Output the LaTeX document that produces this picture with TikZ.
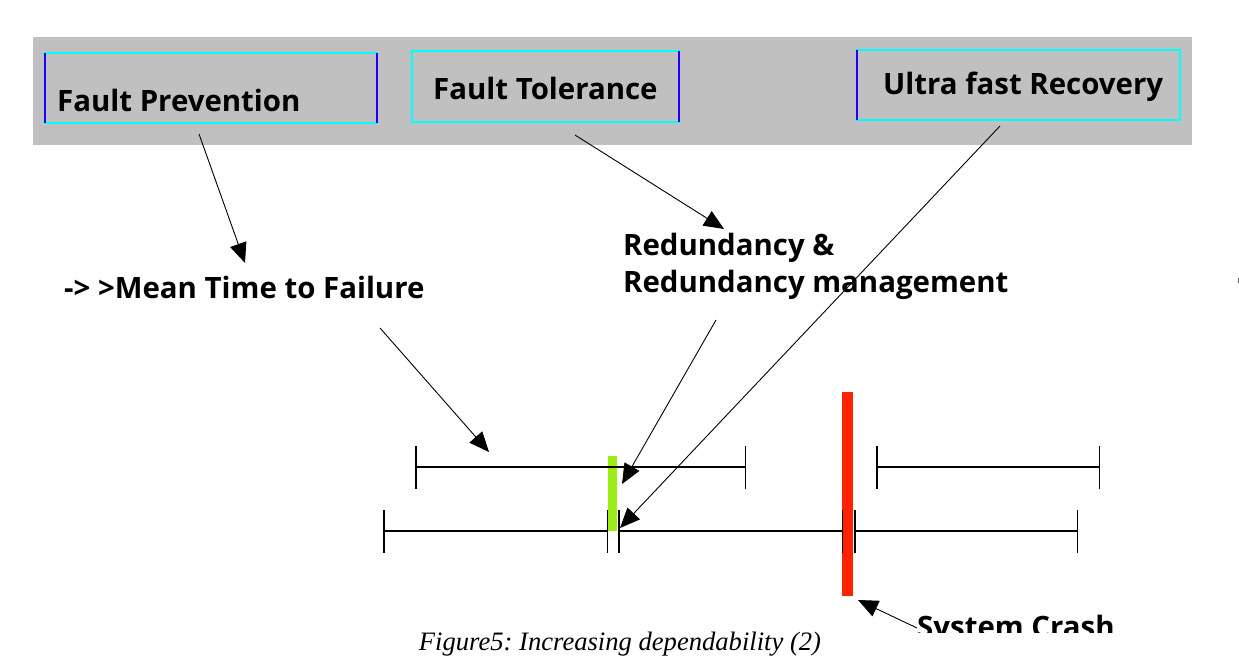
\documentclass[tikz,border=0pt]{standalone}
\usepackage{fontspec}
\setmainfont{Open Sans}
\newfontfamily\capfont{Liberation Serif}
\usetikzlibrary{arrows.meta}
\frenchspacing
\definecolor{bandgray}{RGB}{192,192,192}
\definecolor{boxcyan}{RGB}{0,255,255}
\definecolor{boxblue}{RGB}{30,0,255}
\definecolor{okgreen}{RGB}{154,238,22}
\definecolor{crashred}{RGB}{255,34,0}
\tikzset{
  label/.style={anchor=base west, inner sep=0pt, font=\fontsize{29.4}{37}\selectfont\bfseries},
  caption/.style={anchor=base, inner sep=0pt, font=\capfont\itshape\fontsize{26.6}{30}\selectfont},
  frame/.style={draw=boxcyan, line width=2pt},
  edge/.style={draw=boxblue, line width=2pt},
  pointer/.style={draw=black, line width=0.9pt, -{Triangle[length=20pt,width=17pt]}},
  upperspan/.style={draw=black, line width=1.5pt, {Bar[width=43pt]}-{Bar[width=43pt]}},
  lowerspan/.style={draw=black, line width=1.5pt, {Bar[width=43pt]}-{Bar[width=43pt]}}
}
\begin{document}
\begin{tikzpicture}[x=1pt, y=-1pt]
  \useasboundingbox[fill=white] (0,0) rectangle (1239,666);

  % grey header band with the three boxes
  \fill[bandgray] (33,37) rectangle (1192,145);
  \draw[frame] (45,53) rectangle (377,123);
  \draw[edge] (45,53) -- (45,123);
  \draw[edge] (377,53) -- (377,123);
  \draw[frame] (412,51) rectangle (679,122);
  \draw[edge] (679,51) -- (679,122);
  \draw[frame] (857,50) rectangle (1180,120);
  \draw[edge] (857,50) -- (857,120);

  \node[label] (prev) at (57,112) {Fault Prevention};
  \node[label] (tol) at (433,100) {Fault Tolerance};
  \node[label] (rec) at (883,95) {Ultra fast Recovery};

  \node[label] (mttf) at (64,298) {-> >Mean Time to Failure};
  \node[label] (red1) at (623,255) {Redundancy \&};
  \node[label] (red2) at (623,292) {Redundancy management};

  % bars marking the redundant switch-over and the crash
  \fill[okgreen] (608,456) rectangle (617,531);
  \fill[crashred] (842,392) rectangle (853,596);

  % time spans
  \coordinate (u1a) at (415,467); \coordinate (u1b) at (746,467);
  \coordinate (u2a) at (876,467); \coordinate (u2b) at (1100,467);
  \coordinate (l1a) at (383,531); \coordinate (l1b) at (608,531);
  \coordinate (l2a) at (618,531); \coordinate (l2b) at (843,531);
  \coordinate (l3a) at (854,531); \coordinate (l3b) at (1078,531);
  \draw[upperspan] (u1a) -- (u1b);
  \draw[upperspan] (u2a) -- (u2b);
  \draw[lowerspan] (l1a) -- (l1b);
  \draw[lowerspan] (l2a) -- (l2b);
  \draw[lowerspan] (l3a) -- (l3b);

  % pointers
  \coordinate (p1s) at (199,134); \coordinate (p1e) at (245,263);
  \coordinate (p2s) at (575,135); \coordinate (p2e) at (724,229);
  \coordinate (p3s) at (1000,126); \coordinate (p3e) at (620,528);
  \coordinate (p4s) at (716,320); \coordinate (p4e) at (622,484);
  \coordinate (p5s) at (380,328); \coordinate (p5e) at (489,452);
  \coordinate (p6s) at (917,628); \coordinate (p6e) at (858,600);
  \draw[pointer] (p1s) -- (p1e);
  \draw[pointer] (p2s) -- (p2e);
  \draw[pointer] (p3s) -- (p3e);
  \draw[pointer] (p4s) -- (p4e);
  \draw[pointer] (p5s) -- (p5e);
  \draw[pointer] (p6s) -- (p6e);

  \begin{scope}
    \clip (0,0) rectangle (1239,632);
    \node[label] (crash) at (917,637) {System Crash};
  \end{scope}

  \draw[black!60, line width=1pt] (1238,278) -- (1238,283);

  \node[caption] (cap) at (620,650) {Figure5: Increasing dependability (2)};
\end{tikzpicture}
\end{document}
